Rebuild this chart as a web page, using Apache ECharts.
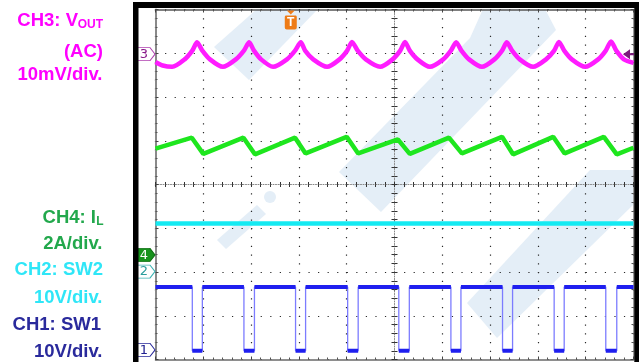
<!DOCTYPE html>
<html><head><meta charset="utf-8">
<script src="https://cdn.jsdelivr.net/npm/echarts@6/dist/echarts.min.js"></script>
<style>html,body{margin:0;padding:0;background:#fff;}#c{width:639px;height:362px;}</style>
</head><body><div id="c"></div><script>
// Time axis in divisions (-5..5, centre = 0); vertical axis in divisions (-4..4)
const ch3Ripple = [
  [-5.00,2.80],[-4.85,2.72],[-4.65,2.69],[-4.39,2.86],[-4.23,3.06],[-4.13,3.25],
  [-4.02,3.06],[-3.86,2.86],[-3.59,2.69],[-3.32,2.86],[-3.15,3.06],[-3.04,3.25],
  [-2.94,3.06],[-2.79,2.86],[-2.54,2.69],[-2.25,2.86],[-2.08,3.06],[-1.96,3.25],
  [-1.87,3.06],[-1.70,2.86],[-1.41,2.69],[-1.15,2.86],[-0.99,3.06],[-0.89,3.26],
  [-0.77,3.06],[-0.60,2.86],[-0.30,2.69],[-0.04,2.86],[0.12,3.06],[0.22,3.26],
  [0.32,3.06],[0.48,2.86],[0.74,2.69],[1.02,2.86],[1.18,3.06],[1.29,3.25],
  [1.40,3.06],[1.56,2.86],[1.83,2.69],[2.09,2.86],[2.25,3.06],[2.35,3.25],
  [2.46,3.06],[2.62,2.86],[2.90,2.69],[3.17,2.86],[3.34,3.06],[3.44,3.26],
  [3.55,3.06],[3.71,2.86],[3.99,2.69],[4.26,2.86],[4.42,3.06],[4.53,3.27],
  [4.64,3.06],[4.80,2.86],[5.00,2.78]
];
const ch4Current = [
  [-5.00,0.82],[-4.24,1.07],[-4.00,0.70],[-3.16,1.07],[-2.92,0.69],[-2.08,1.07],
  [-1.86,0.71],[-1.00,1.09],[-0.76,0.71],[0.07,1.03],[0.32,0.70],[1.14,1.07],
  [1.41,0.71],[2.25,1.09],[2.48,0.69],[3.32,1.09],[3.56,0.71],[4.38,1.09],
  [4.65,0.69],[5.00,0.84]
];
const ch2Level = [[-5,-0.89],[5,-0.89]];
const ch1FallTimes = [-4.23,-3.15,-2.07,-0.98,0.09,1.18,2.26,3.34,4.42];
const ch1RiseTimes = [-4.02,-2.93,-1.86,-0.76,0.31,1.39,2.47,3.55,4.65];
const ch1High = -2.34;
const ch1Low = -3.80;
const ch3Ground = 2.98;
const ch4Ground = -1.61;
const ch2Ground = -1.99;
const ch1Ground = -3.78;
const triggerTime = -2.17;
const triggerLevel = 2.98;
const labelLines = ['CH3: V','OUT','(AC)','10mV/div.','CH4: I','L','2A/div.','CH2: SW2','10V/div.','CH1: SW1','10V/div.'];

// build the SW1 waveform from edge times
const ch1Wave = [[-5, ch1High]];
const ch1Levels = [[-5, ch1High]];
for (let i = 0; i < ch1FallTimes.length; i++) {
  const f = ch1FallTimes[i], r = ch1RiseTimes[i];
  ch1Wave.push([f, ch1High],[f, ch1Low],[r, ch1Low],[r, ch1High]);
  ch1Levels.push([f, ch1High],[f, null],[f, ch1Low],[r, ch1Low],[r, null],[r, ch1High]);
}
ch1Wave.push([5, ch1High]);
ch1Levels.push([5, ch1High]);

const chart = echarts.init(document.getElementById('c'), null, {renderer:'canvas', width:639, height:362});
const gridDot = '#2a2a2a';
function xAx(o){ return Object.assign({type:'value', min:-5, max:5, axisLabel:{show:false}, splitLine:{show:false}}, o); }
function yAx(o){ return Object.assign({type:'value', min:-4, max:4, axisLabel:{show:false}, splitLine:{show:false}}, o); }
const edgeTick = {show:true, inside:true, length:3, lineStyle:{color:'#444', width:1}};
const edgeMinor = {show:true, splitNumber:5, length:2, lineStyle:{color:'#555', width:1}};
const ctrTick = {show:true, inside:false, length:2.5, lineStyle:{color:'#333', width:1}};

const pent = 'path://M0,0 L13,0 L18,6.5 L13,13 L0,13 Z';
function chMarker(v, txt, fill, border, tcol){
  return {coord:[-5, v], symbol:pent, symbolSize:[18,13], symbolOffset:[-9.5,0],
    itemStyle:{color:fill, borderColor:border, borderWidth:1},
    label:{show:true, position:'inside', formatter:txt, color:tcol, fontSize:13, fontFamily:'DejaVu Sans', offset:[-2,0.5]}};
}

const fontMain = 'bold 18.5px "Liberation Sans", Arial, sans-serif';
const fontSub = 'bold 12px "Liberation Sans", Arial, sans-serif';
function txt(s, x, y, col, f){ return {type:'text', z:50, style:{text:s, x:x, y:y, align:'right', verticalAlign:'middle', font:f||fontMain, fill:col}}; }
const mag = '#ff00ff', grn = '#22a84c', cyn = '#2fe6f7', nav = '#2a2a9c';
const wm = '#e4eef7';

chart.setOption({
  animation:false,
  backgroundColor:'#ffffff',
  grid:{left:155.5, top:9.5, width:478, height:350},
  xAxis:[
    xAx({position:'bottom', interval:1, axisLine:{onZero:false, lineStyle:{color:'#6a6a6a', width:1.5}}, axisTick:edgeTick, minorTick:edgeMinor,
      splitLine:{show:true, lineStyle:{color:gridDot, width:1.2, type:[1.2,7.55]}}}),
    xAx({position:'top', interval:1, axisLine:{onZero:false, lineStyle:{color:'#555', width:1.5}}, axisTick:edgeTick, minorTick:edgeMinor}),
    xAx({position:'bottom', interval:0.2, axisLine:{onZero:true, onZeroAxisIndex:0, lineStyle:{color:'#8a8a8a', width:1, type:[1,1.5]}}, axisTick:ctrTick}),
    xAx({position:'top', interval:0.2, axisLine:{show:false, onZero:true, onZeroAxisIndex:0}, axisTick:ctrTick})
  ],
  yAxis:[
    yAx({position:'left', interval:1, axisLine:{onZero:false, lineStyle:{color:'#8a8a8a', width:2}}, axisTick:edgeTick, minorTick:edgeMinor,
      splitLine:{show:true, lineStyle:{color:gridDot, width:1.2, type:[1.2,8.36]}}}),
    yAx({position:'right', interval:1, axisLine:{onZero:false, lineStyle:{color:'#777', width:1.5}}, axisTick:edgeTick, minorTick:edgeMinor}),
    yAx({position:'left', interval:0.2, axisLine:{onZero:true, onZeroAxisIndex:0, lineStyle:{color:'#8a8a8a', width:1, type:[1,1.5]}}, axisTick:{show:true, inside:false, length:3, lineStyle:{color:'#333', width:1}}}),
    yAx({position:'right', interval:0.2, axisLine:{show:false, onZero:true, onZeroAxisIndex:0}, axisTick:{show:true, inside:false, length:3, lineStyle:{color:'#333', width:1}}})
  ],
  graphic:[
    {type:'polygon', z:-10, shape:{points:[[257,9],[318,9],[249,80],[214,47]]}, style:{fill:wm}},
    {type:'polygon', z:-10, shape:{points:[[483,9],[545,9],[556,30],[381,212],[339,172],[470,38]]}, style:{fill:wm}},
    {type:'polygon', z:-10, shape:{points:[[467,303],[590,170],[633,170],[633,205],[497,338]]}, style:{fill:wm}},
    {type:'polygon', z:-10, shape:{points:[[217,240],[257,205],[266,214],[226,249]]}, style:{fill:wm}},
    {type:'circle', z:-10, shape:{cx:270, cy:197, r:6}, style:{fill:wm}},
    // black scope frame
    {type:'rect', z:60, shape:{x:133, y:2, width:5.5, height:360}, style:{fill:'#000'}},
    {type:'rect', z:60, shape:{x:133, y:2, width:506, height:6}, style:{fill:'#000'}},
    {type:'rect', z:60, shape:{x:634.3, y:2, width:5, height:360}, style:{fill:'#000'}},
    // channel labels
    txt(labelLines[0], 78, 20.5, mag),
    txt(labelLines[1], 103, 24.5, mag, fontSub),
    txt(labelLines[2], 103, 52, mag),
    txt(labelLines[3], 102.5, 75, mag),
    txt(labelLines[4], 96, 217.5, grn),
    txt(labelLines[5], 103.5, 222, grn, fontSub),
    txt(labelLines[6], 102.5, 244, grn),
    txt(labelLines[7], 103, 270, cyn),
    txt(labelLines[8], 102.5, 297.5, cyn),
    txt(labelLines[9], 101, 325, nav),
    txt(labelLines[10], 102.5, 352, nav)
  ],
  series:[
    {type:'line', name:'CH3', data:ch3Ripple, xAxisIndex:0, yAxisIndex:0, symbol:'none', smooth:0.25, z:5,
      lineStyle:{color:'#ff1cff', width:4.5},
      markPoint:{data:[
        chMarker(ch3Ground,'3','#ffffff','#b040b0','#8a1a8a'),
        {coord:[5, triggerLevel], symbol:'path://M0,5 L7,0 L7,4 L11,4 L11,6 L7,6 L7,10 Z', symbolSize:[11,10], symbolOffset:[-5,0],
          itemStyle:{color:'#7d1a7d'}, label:{show:false}},
        {coord:[triggerTime, 4], symbol:'path://M2,0 L10,0 L6,4 Z M1,5 L11,5 Q12,5 12,6.5 L12,17 Q12,19 10,19 L2,19 Q0,19 0,17 L0,6.5 Q0,5 1,5 Z',
          symbolSize:[12,19], symbolOffset:[0,10.5], itemStyle:{color:'#ee7b16'},
          label:{show:true, position:'inside', formatter:'T', color:'#fff', fontWeight:'bold', fontSize:12, fontFamily:'Liberation Sans', offset:[0,2.5]}}
      ]}},
    {type:'line', name:'CH4', data:ch4Current, xAxisIndex:0, yAxisIndex:0, symbol:'none', z:5,
      lineStyle:{color:'#1ee61e', width:4.5},
      markPoint:{data:[chMarker(ch4Ground,'4','#17921d','#0d6e12','#ffffff')]}},
    {type:'line', name:'CH2', data:ch2Level, xAxisIndex:0, yAxisIndex:0, symbol:'none', z:5,
      lineStyle:{color:'#14eaf2', width:4.5},
      markPoint:{data:[chMarker(ch2Ground,'2','#ffffff','#3db3b3','#2a9d9d')]}},
    {type:'line', name:'CH1 edges', data:ch1Wave, xAxisIndex:0, yAxisIndex:0, symbol:'none', z:4,
      lineStyle:{color:'#7c7cff', width:1.3}},
    {type:'line', name:'CH1', data:ch1Levels, xAxisIndex:0, yAxisIndex:0, symbol:'none', z:5, connectNulls:false,
      lineStyle:{color:'#1f1fef', width:4},
      markPoint:{data:[chMarker(ch1Ground,'1','#ffffff','#28289a','#202090')]}}
  ]
});
</script></body></html>
